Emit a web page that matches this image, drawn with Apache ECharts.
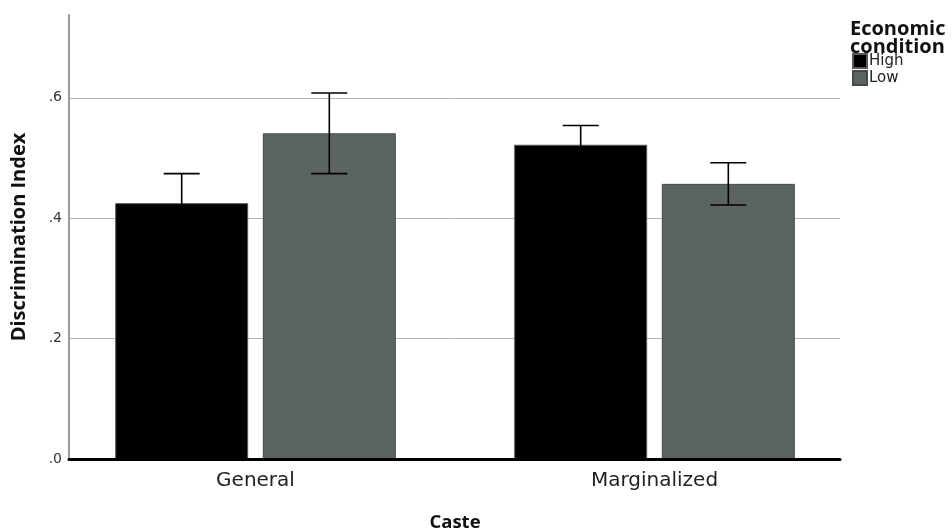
<!DOCTYPE html>
<html>
<head>
<meta charset="utf-8">
<script src="https://cdn.jsdelivr.net/npm/echarts@6/dist/echarts.min.js"></script>
<style>
  html, body { margin: 0; padding: 0; background: #fff; }
  #chart { width: 952px; height: 531px; }
</style>
</head>
<body>
<div id="chart"></div>
<script>
// Mean discrimination index by caste and economic condition, with 95% CI half-widths
const categories = ['General', 'Marginalized'];
const groupNames = ['High', 'Low'];
const highMeans = [0.425, 0.522];
const lowMeans = [0.541, 0.457];
const highErr = [0.049, 0.032];
const lowErr = [0.067, 0.035];
const yTicks = [0, 0.2, 0.4, 0.6];

const Y_MAX = 0.7375;
const BAR_W = 133;
const BAR_GAP = 0.11;
const HALF_STEP = BAR_W * (1 + BAR_GAP) / 2;
const GRID_TOP = 15;
const GRID_BOTTOM = 72;

const chart = echarts.init(document.getElementById('chart'), null, { renderer: 'canvas' });

function tickLabel(v) {
  const hit = yTicks.find(t => Math.abs(t - v) < 1e-6);
  if (hit === undefined) return '';
  return hit.toFixed(1).replace(/^0/, '');
}

function errorBars(name, means, errs, side) {
  return {
    type: 'custom',
    name: name + ' CI',
    xAxisIndex: 0,
    yAxisIndex: 0,
    z: 5,
    silent: true,
    encode: { x: 0, y: [1, 2] },
    data: means.map((m, i) => [i, m - errs[i], m + errs[i]]),
    renderItem(params, api) {
      const lo = api.coord([api.value(0), api.value(1)]);
      const hi = api.coord([api.value(0), api.value(2)]);
      const x = lo[0] + side * HALF_STEP;
      const cap = 18;
      const style = { stroke: '#000000', lineWidth: 1.6 };
      return {
        type: 'group',
        children: [
          { type: 'line', shape: { x1: x, y1: hi[1], x2: x, y2: lo[1] }, style },
          { type: 'line', shape: { x1: x - cap, y1: hi[1], x2: x + cap, y2: hi[1] }, style },
          { type: 'line', shape: { x1: x - cap, y1: lo[1], x2: x + cap, y2: lo[1] }, style }
        ]
      };
    }
  };
}

const option = {
  backgroundColor: '#ffffff',
  animation: false,
  title: {
    text: 'Economic\ncondition',
    left: 850,
    top: 21,
    padding: 0,
    textStyle: {
      fontFamily: 'Open Sans',
      fontWeight: 'bold',
      fontSize: 20,
      lineHeight: 17.5,
      color: '#111'
    }
  },
  legend: {
    data: groupNames,
    orient: 'vertical',
    left: 852,
    top: 53,
    padding: 0,
    itemGap: 1,
    itemWidth: 14,
    itemHeight: 14,
    icon: 'rect',
    textStyle: {
      fontFamily: 'DejaVu Sans',
      fontSize: 15,
      lineHeight: 16,
      color: '#222',
      padding: [0, 0, 0, -3]
    }
  },
  grid: [
    { left: 56, right: 98, top: GRID_TOP, bottom: GRID_BOTTOM, outerBoundsMode: 'none' },
    { left: 69, right: 112, top: GRID_TOP, bottom: GRID_BOTTOM, outerBoundsMode: 'none' }
  ],
  xAxis: [
    {
      type: 'category',
      gridIndex: 0,
      data: categories,
      axisLine: { show: false },
      axisTick: { show: false },
      axisLabel: {
        margin: 12,
        fontFamily: 'DejaVu Sans',
        fontSize: 20,
        color: '#222'
      },
      name: 'Caste',
      nameLocation: 'middle',
      nameGap: 54,
      nameTextStyle: {
        fontFamily: 'Open Sans',
        fontWeight: 'bold',
        fontSize: 18.5,
        color: '#111'
      }
    },
    {
      type: 'value',
      gridIndex: 1,
      min: 0,
      max: 1,
      z: 10,
      axisLine: { show: true, lineStyle: { color: '#000', width: 3 } },
      axisTick: { show: false },
      axisLabel: { show: false },
      splitLine: { show: false }
    }
  ],
  yAxis: [
    {
      type: 'value',
      gridIndex: 0,
      min: 0,
      max: Y_MAX,
      show: false
    },
    {
      type: 'value',
      gridIndex: 1,
      min: 0,
      max: Y_MAX,
      interval: 0.2,
      axisLine: { show: true, lineStyle: { color: '#9a9a9a', width: 2 } },
      axisTick: { show: false },
      axisLabel: {
        formatter: tickLabel,
        showMaxLabel: false,
        margin: 7,
        fontFamily: 'DejaVu Sans',
        fontSize: 14,
        color: '#333'
      },
      splitLine: {
        show: true,
        showMinLine: false,
        showMaxLine: false,
        lineStyle: { color: '#b4b4b4', width: 1 }
      },
      name: 'Discrimination Index',
      nameLocation: 'middle',
      nameGap: 40,
      nameTextStyle: {
        fontFamily: 'Open Sans',
        fontWeight: 'bold',
        fontSize: 20,
        color: '#111'
      }
    }
  ],
  series: [
    {
      name: 'High',
      type: 'bar',
      xAxisIndex: 0,
      yAxisIndex: 0,
      barWidth: BAR_W,
      barGap: (BAR_GAP * 100) + '%',
      data: highMeans,
      itemStyle: { color: '#000000', borderColor: '#5a5a5a', borderWidth: 1 }
    },
    {
      name: 'Low',
      type: 'bar',
      xAxisIndex: 0,
      yAxisIndex: 0,
      barWidth: BAR_W,
      barGap: (BAR_GAP * 100) + '%',
      data: lowMeans,
      itemStyle: { color: '#5b645f', borderColor: '#454b47', borderWidth: 1 }
    },
    errorBars('High', highMeans, highErr, -1),
    errorBars('Low', lowMeans, lowErr, 1)
  ]
};

chart.setOption(option);
</script>
</body>
</html>
